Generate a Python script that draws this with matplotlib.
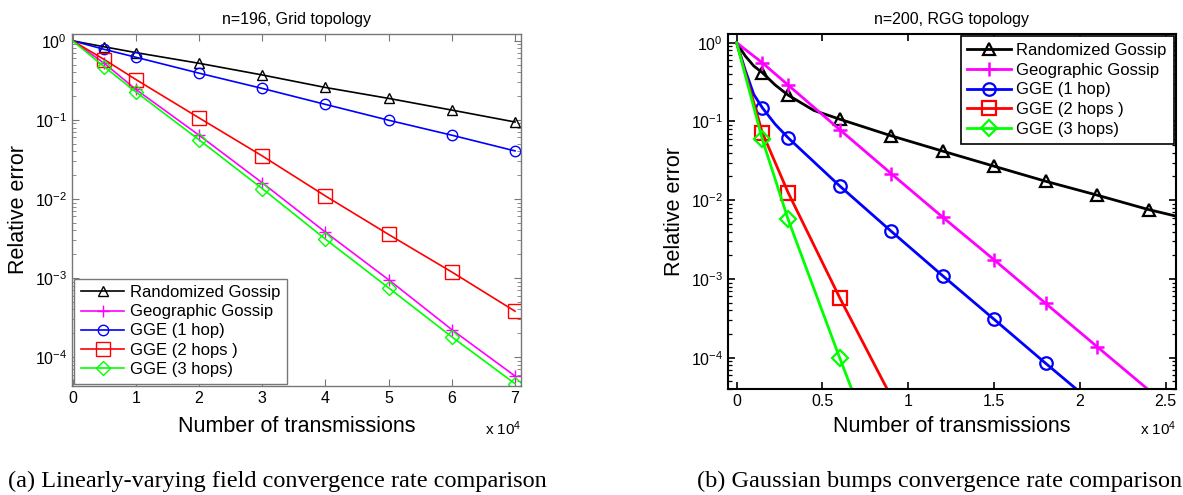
import numpy as np
import matplotlib
matplotlib.use('Agg')
import matplotlib.pyplot as plt
from matplotlib.ticker import LogLocator, FixedLocator, NullFormatter

plt.rcParams['font.family'] = ['Liberation Sans', 'DejaVu Sans']
plt.rcParams['mathtext.fontset'] = 'custom'
plt.rcParams['mathtext.rm'] = 'Liberation Sans'
plt.rcParams['mathtext.default'] = 'regular'

# (a) grid topology, n=196
xa = [0, 5000, 10000, 20000, 30000, 40000, 50000, 60000, 70000]
a_rand = [1.0, 0.84, 0.71, 0.52, 0.37, 0.257, 0.187, 0.133, 0.094]
a_geo = [1.0, 0.52, 0.243, 0.064, 0.016, 0.0038, 0.00095, 0.000222, 5.75e-5]
a_gge1 = [1.0, 0.78, 0.62, 0.39, 0.25, 0.157, 0.099, 0.064, 0.0405]
a_gge2 = [1.0, 0.58, 0.324, 0.106, 0.035, 0.0109, 0.00355, 0.00119, 0.00038]
a_gge3 = [1.0, 0.47, 0.226, 0.056, 0.0135, 0.0031, 0.00075, 0.00018, 4.6e-5]

# (b) RGG topology, n=200
xb_rand = [0, 500, 1000, 1500, 2250, 3000, 4500, 6000, 9000, 12000, 15000, 18000, 21000, 24000, 25700]
b_rand = [1.0, 0.68, 0.506, 0.416, 0.29, 0.216, 0.138, 0.107, 0.0658, 0.042, 0.027, 0.0174, 0.0116, 0.0076, 0.0062]
xb_geo = [0, 1500, 3000, 6000, 9000, 12000, 15000, 18000, 21000, 24000]
b_geo = [1.0, 0.555, 0.29, 0.079, 0.0218, 0.0061, 0.00175, 0.00049, 0.000138, 3.9e-5]
xb_gge1 = [0, 500, 1000, 1500, 2250, 3000, 6000, 9000, 12000, 15000, 18000, 21000]
b_gge1 = [1.0, 0.45, 0.22, 0.149, 0.092, 0.062, 0.0152, 0.00404, 0.0011, 0.000307, 8.5e-5, 2.4e-5]
xb_gge = [0, 1500, 3000, 6000, 9000]
b_gge2 = [1.0, 0.0718, 0.0125, 0.00058, 3.2e-5]
b_gge3 = [1.0, 0.059, 0.0057, 0.0001, 2e-6]

labels = ['Randomized Gossip', 'Geographic Gossip', 'GGE (1 hop)', 'GGE (2 hops )', 'GGE (3 hops)']

W, H = 1183, 495
fig = plt.figure(figsize=(W / 100, H / 100), dpi=100)


def px_axes(l, r, t, b):
    return fig.add_axes([l / W, (H - b) / H, (r - l) / W, (b - t) / H])


def style_log(ax, col, lw):
    ax.set_yscale('log')
    ax.yaxis.set_major_locator(LogLocator(base=10, numticks=10))
    ax.yaxis.set_minor_locator(LogLocator(base=10, subs=np.arange(2, 10), numticks=10))
    ax.yaxis.set_minor_formatter(NullFormatter())
    for s in ax.spines.values():
        s.set_color(col)
        s.set_linewidth(lw)
    ax.tick_params(which='both', direction='in', top=True, right=True, color=col,
                   labelsize=11.5, labelcolor='black')
    ax.tick_params(which='major', length=5, width=lw * 0.8)
    ax.tick_params(which='minor', length=3, width=lw * 0.6)


# ---- left panel ----
ax1 = px_axes(71.7, 521, 34, 386)
lw1, ms1 = 1.2, 8
mk1 = list(range(1, len(xa)))
ax1.plot(xa, a_rand, 'k-^', lw=lw1, ms=ms1 - 1, mfc='none', mew=1.0, markevery=mk1, label=labels[0])
ax1.plot(xa, a_geo, '-+', color='#ff00ff', lw=lw1, ms=ms1, mew=1.0, markevery=mk1, label=labels[1])
ax1.plot(xa, a_gge1, '-o', color='#0000ff', lw=lw1, ms=ms1 - 0.5, mfc='none', mew=1.0, markevery=mk1, label=labels[2])
ax1.plot(xa, a_gge2, '-s', color='#ff0000', lw=lw1, ms=ms1 + 1.5, mfc='none', mew=1.0, markevery=mk1, label=labels[3])
ax1.plot(xa, a_gge3, '-D', color='#00ff00', lw=lw1, ms=ms1 - 0.5, mfc='none', mew=1.0, markevery=mk1, label=labels[4])
ax1.set_xlim(-150, 70950)
ax1.set_ylim(4.3e-5, 1.22)
style_log(ax1, '#777777', 1.0)
ax1.xaxis.set_major_locator(FixedLocator([0, 10000, 20000, 30000, 40000, 50000, 60000, 70000]))
ax1.set_xticklabels(['0', '1', '2', '3', '4', '5', '6', '7'])
ax1.set_title('n=196, Grid topology', fontsize=11.5, pad=7)
ax1.set_xlabel('Number of transmissions', fontsize=15.5, labelpad=7)
ax1.set_ylabel('Relative error', fontsize=15.5, labelpad=4)
ax1.text(1.0, -0.095, r'x 10$^{4}$', transform=ax1.transAxes, ha='right', va='top', fontsize=11)
leg1 = ax1.legend(loc='lower left', fontsize=12, borderaxespad=0.15, handlelength=2.6,
                  handletextpad=0.35, labelspacing=0.25, borderpad=0.4, fancybox=False,
                  framealpha=1, edgecolor='#777777')
leg1.get_frame().set_linewidth(1.0)

# ---- right panel ----
ax2 = px_axes(727.7, 1176, 34, 389)
lw2, ms2 = 2.0, 9
ax2.plot(xb_rand, b_rand, 'k-^', lw=lw2, ms=ms2, mfc='none', mew=1.6,
         markevery=[3, 5, 7, 8, 9, 10, 11, 12, 13], label=labels[0])
ax2.plot(xb_geo, b_geo, '-+', color='#ff00ff', lw=lw2, ms=ms2 + 1, mew=1.8,
         markevery=list(range(1, 9)), label=labels[1])
ax2.plot(xb_gge1, b_gge1, '-o', color='#0000ff', lw=lw2, ms=ms2, mfc='none', mew=1.6,
         markevery=[3, 5, 6, 7, 8, 9, 10], label=labels[2])
ax2.plot(xb_gge, b_gge2, '-s', color='#ff0000', lw=lw2, ms=ms2 + 1, mfc='none', mew=1.6,
         markevery=[1, 2, 3], label=labels[3])
ax2.plot(xb_gge, b_gge3, '-D', color='#00ff00', lw=lw2, ms=ms2 - 0.5, mfc='none', mew=1.6,
         markevery=[1, 2, 3], label=labels[4])
ax2.set_xlim(-520, 25600)
ax2.set_ylim(4.0e-5, 1.29)
style_log(ax2, 'black', 1.5)
ax2.xaxis.set_major_locator(FixedLocator([0, 5000, 10000, 15000, 20000, 25000]))
ax2.set_xticklabels(['0', '0.5', '1', '1.5', '2', '2.5'])
ax2.set_title('n=200, RGG topology', fontsize=11.5, pad=7)
ax2.set_xlabel('Number of transmissions', fontsize=15.5, labelpad=5)
ax2.set_ylabel('Relative error', fontsize=15.5, labelpad=4)
ax2.text(1.0, -0.085, r'x 10$^{4}$', transform=ax2.transAxes, ha='right', va='top', fontsize=11)
leg2 = ax2.legend(loc='upper right', fontsize=12, borderaxespad=0.15, handlelength=2.6,
                  handletextpad=0.35, labelspacing=0.28, borderpad=0.4, fancybox=False,
                  framealpha=1, edgecolor='black')
leg2.get_frame().set_linewidth(1.2)

# captions
fig.text(277 / W, 1 - 481 / H, '(a) Linearly-varying field convergence rate comparison',
         ha='center', va='center', fontsize=17.5, family=['Liberation Serif', 'DejaVu Serif'])
fig.text(940 / W, 1 - 481 / H, '(b) Gaussian bumps convergence rate comparison',
         ha='center', va='center', fontsize=17.5, family=['Liberation Serif', 'DejaVu Serif'])

fig.savefig('out.png', dpi=100)
